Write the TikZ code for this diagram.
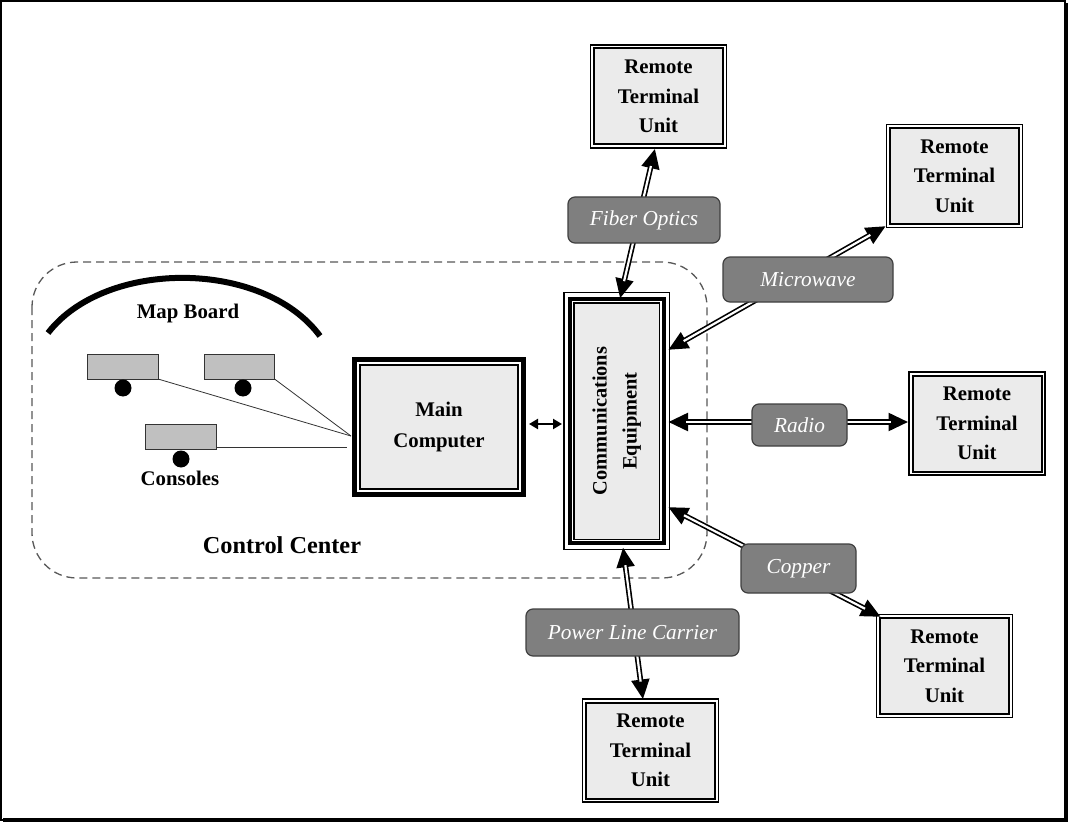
\documentclass[tikz,border=0pt]{standalone}
\usepackage{fontspec}
\setmainfont{Liberation Serif}
\usetikzlibrary{arrows.meta}
\definecolor{boxfill}{HTML}{EBEBEB}
\definecolor{labfill}{HTML}{7F7F7F}
\definecolor{labdraw}{HTML}{404040}
\definecolor{consfill}{HTML}{C0C0C0}
\newcommand\myframe[3]{\draw[line width=#3] ([xshift=-#2,yshift=#2]#1.north west) rectangle ([xshift=#2,yshift=-#2]#1.south east);}
\begin{document}
\begin{tikzpicture}[x=1pt,y=-1pt,
  rtubox/.style={draw=black, line width=2pt, fill=boxfill, minimum width=129pt, minimum height=96pt, inner sep=0pt, outer sep=0pt, align=center, font=\fontsize{20.8}{29.5}\selectfont\bfseries},
  bigbox/.style={draw=black, fill=boxfill, inner sep=0pt, outer sep=0pt, align=center, font=\fontsize{20.8}{31}\selectfont\bfseries},
  lab/.style={draw=labdraw, line width=1.2pt, fill=labfill, rounded corners=7pt, inner sep=0pt, outer sep=0pt, text=white, font=\fontsize{21.3}{24}\selectfont\itshape},
  conn/.style={line width=5.5pt, {Triangle[length=20pt,width=17pt]}-{Triangle[length=20pt,width=17pt]}, postaction={draw=white, line width=2.2pt, arrows=-, shorten <=18pt, shorten >=18pt}},
  console/.style={draw=black!80, line width=1pt, fill=consfill, minimum height=25pt, inner sep=0pt, outer sep=0pt},
  dot/.style={circle, fill=black, minimum size=17pt, inner sep=0pt},
  cline/.style={line width=0.8pt, draw=black!80},
  plain/.style={font=\fontsize{20.8}{24}\selectfont\bfseries}
]
\useasboundingbox (0,0) rectangle (1069,824);
% outer frame
\fill[white] (0,0) rectangle (1069,824);
\draw[line width=2pt] (1,1) rectangle (1065,820);
\fill[black] (1064,3) rectangle (1068,822);
\fill[black] (3,818) rectangle (1068,822);

% control center region
\draw[dash pattern=on 8pt off 5pt, line width=1.3pt, draw=black!65, rounded corners=45pt] (32,262) rectangle (707,578);
\draw[line width=6pt] (48,333) .. controls (105,259) and (263,259) .. (320,336);
\node[plain] (mapboard) at (188,313) {Map Board};

% consoles
\node[console, minimum width=71pt] (c1) at (122.5,366.5) {};
\node[console, minimum width=70pt] (c2) at (239.5,366.5) {};
\node[console, minimum width=71pt] (c3) at (180.5,436.5) {};
\node[dot] (d1) at (123,388) {};
\node[dot] (d2) at (243,388) {};
\node[dot] (d3) at (181,459) {};
\node[plain] (consoles) at (180,478) {Consoles};
\node[font=\fontsize{24.3}{28}\selectfont\bfseries] (cc) at (282,545) {Control Center};

% main computer
\node[bigbox, line width=2pt, minimum width=158pt, minimum height=124pt] (mc) at (439,427) {Main\\Computer};
\myframe{mc}{5.5pt}{5pt}

% communications equipment
\node[bigbox, line width=1.6pt, minimum width=85.5pt, minimum height=236.6pt] (comm) at (616.75,421) {};
\myframe{comm}{4pt}{4pt}
\myframe{comm}{10pt}{1.3pt}
\node[rotate=90, align=center, font=\fontsize{20.4}{30}\selectfont\bfseries] (commtxt) at (comm.center) {Communications\\Equipment};

% remote terminal units
\node[rtubox] (r1) at (658.5,96.5) {Remote\\Terminal\\Unit};
\node[rtubox] (r2) at (954.5,176) {Remote\\Terminal\\Unit};
\node[rtubox] (r3) at (977,423.5) {Remote\\Terminal\\Unit};
\node[rtubox] (r4) at (944.5,666) {Remote\\Terminal\\Unit};
\node[rtubox] (r5) at (650.5,750.5) {Remote\\Terminal\\Unit};
\foreach \r in {r1,r2,r3,r4,r5} {\myframe{\r}{3.5pt}{1.2pt}}

% console wiring
\draw[cline] (c1.south east) -- ([xshift=-9pt,yshift=-9pt]mc.west);
\draw[cline] (c2.south east) -- ([xshift=-9pt,yshift=-9pt]mc.west);
\draw[cline] ([yshift=2pt]c3.south east) -- ([xshift=-13pt,yshift=-20pt]mc.west);

% main computer <-> comm
\draw[line width=2.5pt, {Triangle[length=9pt,width=10pt]}-{Triangle[length=9pt,width=10pt]}] ([xshift=11pt,yshift=3pt]mc.east) -- ([xshift=-12pt,yshift=-3pt]comm.west);

% communication links
\draw[conn] ([xshift=3.25pt,yshift=4pt]comm.north) -- ([xshift=-3.5pt,yshift=-4pt]r1.south);
\draw[conn] ([xshift=8.5pt,yshift=-47.3pt]comm.north east) -- ([xshift=-4pt,yshift=-2pt]r2.south west);
\draw[conn] ([xshift=8.5pt,yshift=-1pt]comm.east) -- ([xshift=-4pt,yshift=1.5pt]r3.west);
\draw[conn] ([xshift=8.5pt,yshift=32.3pt]comm.south east) -- ([xshift=1pt,yshift=1pt]r4.north west);
\draw[conn] ([xshift=6.25pt,yshift=-8pt]comm.south) -- ([xshift=-7.5pt,yshift=3pt]r5.north);

% link labels
\node[lab, minimum width=152pt, minimum height=46pt] (fiber) at (644,220) {Fiber Optics};
\node[lab, minimum width=170pt, minimum height=45pt] (micro) at (808,279.5) {Microwave};
\node[lab, minimum width=95pt, minimum height=42pt] (radio) at (799.5,425) {Radio};
\node[lab, minimum width=115pt, minimum height=49pt] (copper) at (798.5,568.5) {Copper};
\node[lab, minimum width=213pt, minimum height=47pt] (plc) at (632.5,632.5) {Power Line Carrier};
\end{tikzpicture}
\end{document}
